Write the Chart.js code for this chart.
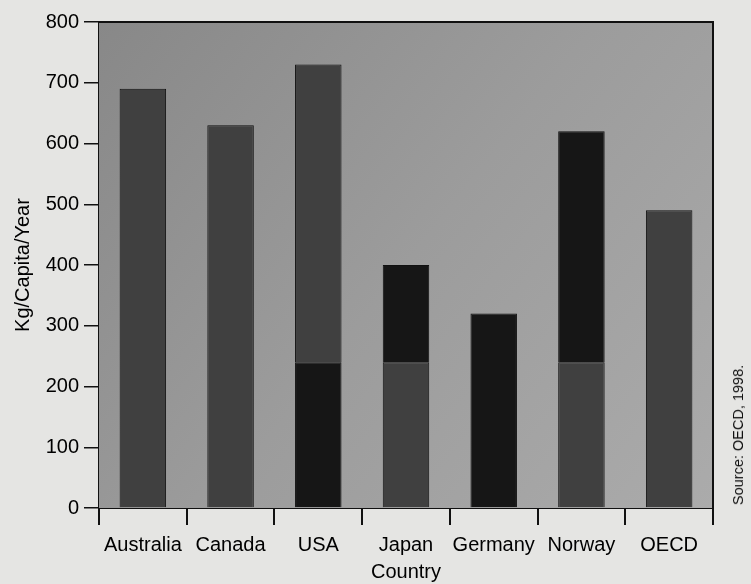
<!DOCTYPE html>
<html>
<head>
<meta charset="utf-8">
<script src="https://cdn.jsdelivr.net/npm/chart.js@4/dist/chart.umd.min.js"></script>
<style>
  html, body { margin: 0; padding: 0; background: #e5e5e3; }
  #wrap { position: relative; width: 751px; height: 584px; }
  canvas { display: block; }
  #source {
    position: absolute; left: 738px; top: 435px;
    transform: translate(-50%, -50%) rotate(-90deg);
    font: 14.5px "Liberation Sans", Arial, sans-serif; color: #111;
    white-space: nowrap;
  }
</style>
</head>
<body>
<div id="wrap">
  <canvas id="chart" width="751" height="584"></canvas>
  <div id="source">Source: OECD, 1998.</div>
</div>
<script>
// Waste generated per person, in kg per capita per year
const countries = ["Australia", "Canada", "USA", "Japan", "Germany", "Norway", "OECD"];

// Stacked segments, bottom to top
const lowerGrey  = [690, 630, null, 240, null, 240, 490];
const lowerBlack = [null, null, 240, null, 320, null, null];
const upperGrey  = [null, null, 490, null, null, null, null];
const upperBlack = [null, null, null, 160, null, 380, null];

const yTicks = [0, 100, 200, 300, 400, 500, 600, 700, 800];

const GREY = "#404040";
const BLACK = "#161616";
const FONT = "'Liberation Sans', Arial, sans-serif";

// Shaded plot background plus top/right frame lines
const plotFrame = {
  id: "plotFrame",
  beforeDatasetsDraw(chart) {
    const { ctx, chartArea: a } = chart;
    const g = ctx.createLinearGradient(a.left, a.top, a.right, a.bottom);
    g.addColorStop(0, "#888888");
    g.addColorStop(0.5, "#9c9c9c");
    g.addColorStop(1, "#ababab");
    ctx.save();
    ctx.fillStyle = g;
    ctx.fillRect(a.left, a.top, a.right - a.left, a.bottom - a.top);
    ctx.restore();
  },
  afterDraw(chart) {
    const { ctx, chartArea: a } = chart;
    ctx.save();
    ctx.strokeStyle = "#111";
    ctx.lineWidth = 2;
    ctx.beginPath();
    ctx.moveTo(a.left, a.top);
    ctx.lineTo(a.right, a.top);
    ctx.lineTo(a.right, a.bottom);
    ctx.stroke();
    ctx.restore();
  }
};

const seg = (data, color) => ({
  data,
  backgroundColor: color,
  borderColor: "#111",
  borderWidth: 1,
  barPercentage: 0.53,
  categoryPercentage: 1.0
});

new Chart(document.getElementById("chart"), {
  type: "bar",
  data: {
    labels: countries,
    datasets: [
      seg(lowerGrey, GREY),
      seg(lowerBlack, BLACK),
      seg(upperGrey, GREY),
      seg(upperBlack, BLACK)
    ]
  },
  options: {
    responsive: false,
    animation: false,
    layout: { padding: { top: 22, right: 38, left: 0, bottom: 0 } },
    plugins: { legend: { display: false }, tooltip: { enabled: false } },
    scales: {
      x: {
        stacked: true,
        afterFit(axis) { axis.height = 76; },
        grid: { offset: true, drawOnChartArea: false, tickLength: 17, color: "#111", lineWidth: 2 },
        border: { color: "#111", width: 2 },
        ticks: { color: "#000", font: { family: FONT, size: 20 }, padding: 8, maxRotation: 0 },
        title: { display: true, text: "Country", color: "#000", font: { family: FONT, size: 20 }, padding: { top: 0, bottom: 0 } }
      },
      y: {
        stacked: true,
        min: 0, max: 800,
        afterBuildTicks(axis) { axis.ticks = yTicks.map(v => ({ value: v })); },
        afterFit(axis) { axis.width = 99; },
        grid: { drawOnChartArea: false, tickLength: 15, color: "#111", lineWidth: 1.5 },
        border: { color: "#111", width: 2 },
        ticks: { color: "#000", font: { family: FONT, size: 20 }, padding: 5 },
        title: { display: true, text: "Kg/Capita/Year", color: "#000", font: { family: FONT, size: 20 }, padding: { top: 11, bottom: 4 } }
      }
    }
  },
  plugins: [plotFrame]
});
</script>
</body>
</html>
